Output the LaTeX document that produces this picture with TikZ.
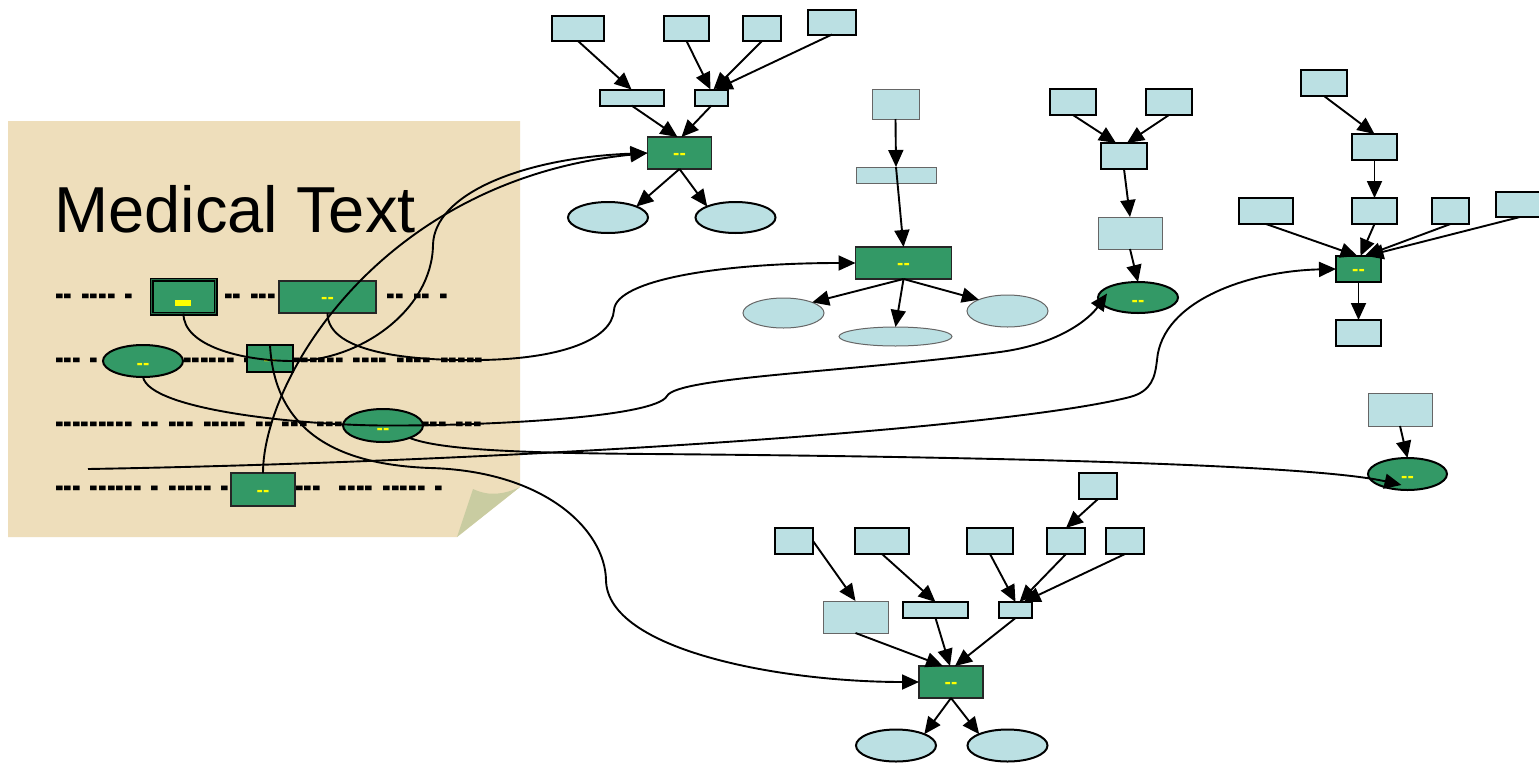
\documentclass[tikz,border=0pt]{standalone}
\usepackage{graphicx}
\usetikzlibrary{arrows.meta,shapes.geometric,calc}
\font\titlefnt="Liberation Sans" at 65pt
\font\dashfnt="Liberation Sans/B" at 26pt
\font\lblfnt="Liberation Sans/B" at 19pt
\newcommand\dashline[1]{{\dashfnt\spaceskip=9pt\relax\scalebox{1}[1.5]{#1}}}
\definecolor{lb}{HTML}{BBE0E3}
\definecolor{gr}{HTML}{339966}
\definecolor{paper}{HTML}{EEDEBB}
\definecolor{flap}{HTML}{C9CCA1}
\definecolor{lbl}{HTML}{FFFF00}
\tikzset{
  every node/.style={inner sep=0pt, outer sep=0pt},
  sz/.style 2 args={minimum width=#1pt, minimum height=#2pt},
  lbk/.style={rectangle, fill=lb, draw=black, line width=2pt},
  lbt/.style={rectangle, fill=lb, draw=black!60, line width=1pt},
  elk/.style={ellipse, fill=lb, draw=black, line width=2pt},
  elt/.style={ellipse, fill=lb, draw=black!60, line width=1pt},
  grt/.style={rectangle, fill=gr, draw=black!85, line width=1.2pt, text=lbl, font=\lblfnt, text height=13.5pt, text depth=0pt},
  grk/.style={rectangle, fill=gr, draw=black, line width=2pt, text=lbl, font=\lblfnt, text height=13.5pt, text depth=0pt},
  gek/.style={ellipse, fill=gr, draw=black, line width=2pt, text=lbl, font=\lblfnt, text height=17.5pt, text depth=0pt},
  dashrow/.style={anchor=base west},
  arr/.style={-{Triangle[length=17pt,width=15pt]}, line width=1.9pt},
  carr/.style={-{Triangle[length=17pt,width=15pt]}, line width=1.9pt}
}
\begin{document}
\begin{tikzpicture}[x=1pt,y=-1pt]
\useasboundingbox (0,0) rectangle (1539,763);
\fill[white] (0,0) rectangle (1539,763);
% paper
\fill[paper] (8,121) -- (520,121) -- (520,487) -- (457,537) -- (8,537) -- cycle;
\fill[flap] (457,537) -- (473,489) .. controls (490,497) and (505,494) .. (520,487) -- cycle;
\node[anchor=base west, font=\titlefnt] (title) at (54.5,232) {Medical Text};
% dash rows
\node[dashrow] (r1a) at (55,306) {\dashline{-- ---- -}};
\node[dashrow] (r1b) at (224,306) {\dashline{-- ---}};
\node[dashrow, anchor=base east] (r1c) at (448,306) {\dashline{-- -- -- -}};
\node[dashrow] (r2a) at (55,370) {\dashline{--- -}};
\node[dashrow] (r2b) at (183,370) {\dashline{------ --}};
\node[dashrow] (r2c) at (292,370) {\dashline{------ ---- ---- -----}};
\node[dashrow] (r3a) at (55,434) {\dashline{--------- -- --- ----- -- --- ---}};
\node[dashrow] (r3b) at (421,434) {\dashline{--- ---}};
\node[dashrow] (r4a) at (55,498) {\dashline{--- ------ - ----- --}};
\node[dashrow] (r4b) at (295,498) {\dashline{---\hspace{18pt}---- ----- -}};
% left panel nodes
\node[rectangle, fill=gr, draw=black, line width=1.5pt, double=gr!70!black, double distance=1pt, sz={64}{34}] (A) at (183.5,296.5) {};
\node[fill=lbl, sz={16}{6}] (Abar) at (183,303) {};
\node[grt, sz={97}{32}] (B) at (327.5,297) {--};
\node[grk, sz={46}{27}] (C) at (270,358.5) {--};
\node[gek, sz={80}{32}] (E1) at (143,361) {--};
\node[gek, sz={80}{33}] (E2) at (383,425.5) {--};
\node[grt, sz={64}{33}] (D) at (263,489.5) {--};
% top-left cluster
\node[lbk, sz={52}{25}] (T1) at (578,28.5) {};
\node[lbk, sz={45}{25}] (T2) at (686.5,28.5) {};
\node[lbk, sz={38}{25}] (T3) at (762,28.5) {};
\node[lbk, sz={48}{25}] (T4) at (832,22) {};
\node[lbk, sz={64}{16}] (T5) at (631.5,97.5) {};
\node[lbk, sz={33}{16}] (T6) at (711.5,97.5) {};
\node[grt, sz={64}{32}] (G1) at (679.5,153) {--};
\node[elk, sz={80}{31}] (O1) at (608,217.5) {};
\node[elk, sz={80}{31}] (O2) at (735.5,217.5) {};
% middle cluster
\node[lbt, sz={47}{30}] (M1) at (895.5,104) {};
\node[lbt, sz={80}{16}] (M2) at (896,175) {};
\node[grt, sz={96}{32}] (G2) at (903.5,263) {--};
\node[elt, sz={81}{30}] (O3) at (783.5,313) {};
\node[elt, sz={113}{19}] (O4) at (895.5,336.5) {};
\node[elt, sz={81}{32}] (O5) at (1007.5,311) {};
% right-middle cluster
\node[lbk, sz={46}{26}] (R1) at (1073,102) {};
\node[lbk, sz={46}{26}] (R2) at (1169,102) {};
\node[lbk, sz={46}{26}] (R3) at (1124,156) {};
\node[lbt, sz={64}{32}] (R4) at (1130,233) {};
\node[gek, sz={80}{31}] (GE1) at (1138,297.5) {--};
% far-right cluster
\node[lbk, sz={46}{26}] (S1) at (1324,83) {};
\node[lbk, sz={45}{26}] (S2) at (1374.5,147) {};
\node[lbk, sz={54}{26}] (S3) at (1266,211) {};
\node[lbk, sz={45}{26}] (S4) at (1374.5,211) {};
\node[lbk, sz={37}{26}] (S5) at (1450.5,211) {};
\node[lbk, sz={48}{25}] (S6) at (1520,204.5) {};
\node[grk, sz={45}{26}] (G3) at (1358.5,269) {--};
\node[lbk, sz={45}{26}] (S7) at (1358.5,333) {};
\node[lbt, sz={64}{33}] (S8) at (1400,409.5) {};
\node[gek, sz={79}{32}] (GE2) at (1407.5,474) {--};
% bottom cluster
\node[lbk, sz={38}{26}] (B1) at (794,541) {};
\node[lbk, sz={54}{26}] (B2) at (882,541) {};
\node[lbk, sz={46}{26}] (B3) at (990,541) {};
\node[lbk, sz={38}{26}] (B4) at (1066,541) {};
\node[lbk, sz={38}{26}] (B5) at (1125,541) {};
\node[lbk, sz={38}{26}] (B6) at (1098,486) {};
\node[lbt, sz={65}{32}] (B7) at (855.5,617) {};
\node[lbk, sz={65}{16}] (B8) at (935.5,610) {};
\node[lbk, sz={33}{16}] (B9) at (1015.5,610) {};
\node[grt, sz={64}{32}] (G4) at (951,682) {--};
\node[elk, sz={80}{32}] (O6) at (896,745.5) {};
\node[elk, sz={80}{32}] (O7) at (1007.5,745.5) {};
% cluster edges
\draw[arr] (T1.south) -- (T5.north);
\draw[arr] (T2.south) -- ([xshift=-1pt]T6.north);
\draw[arr] (T3.south) -- ([xshift=2pt]T6.north);
\draw[arr] (T4.south) -- ([xshift=4pt]T6.north);
\draw[arr] (T5.south) -- ([xshift=-2pt]G1.north);
\draw[arr] (T6.south) -- ([xshift=2pt]G1.north);
\draw[arr] (G1.south) -- (O1.north east);
\draw[arr] (G1.south) -- (O2.north west);
\draw[arr] (M1.south) -- (M2.north);
\draw[arr] (M2.north) -- (G2.north);
\draw[arr] (G2.south) -- (O3.north east);
\draw[arr] (G2.south) -- (O4.north);
\draw[arr] (G2.south) -- (O5.north west);
\draw[arr] (R1.south) -- ([xshift=-8pt]R3.north);
\draw[arr] (R2.south) -- ([xshift=3pt]R3.north);
\draw[arr] (R3.south) -- (R4.north);
\draw[arr] (R4.south) -- (GE1.north);
\draw[arr] (S1.south) -- (S2.north);
\draw[arr] (S2.south) -- (S4.north);
\draw[arr] (S3.south) -- ([xshift=-1pt]G3.north);
\draw[arr] (S4.south) -- ([xshift=2pt]G3.north);
\draw[arr] (S5.south) -- ([xshift=6pt]G3.north);
\draw[arr] (S6.south) -- ([xshift=8pt]G3.north);
\draw[arr] (G3.south) -- (S7.north);
\draw[arr] (S8.south) -- (GE2.north);
\draw[arr] (B6.south) -- (B4.north);
\draw[arr] (B1.east) -- (B7.north);
\draw[arr] (B2.south) -- (B8.north);
\draw[arr] (B3.south) -- (B9.north);
\draw[arr] (B4.south) -- ([xshift=4pt]B9.north);
\draw[arr] (B5.south) -- ([xshift=8pt]B9.north);
\draw[arr] (B7.south) -- ([xshift=-8pt]G4.north);
\draw[arr] (B8.south) -- ([xshift=-1pt]G4.north);
\draw[arr] (B9.south) -- ([xshift=4pt]G4.north);
\draw[arr] (G4.south) -- (O6.north east);
\draw[arr] (G4.south) -- (O7.north west);
% long connectors
\coordinate (fs) at (88,469);
\draw[carr] (A.south) .. controls (183,345) and (240,361) .. (293,361)
  .. controls (360,361) and (432,310) .. (433,245)
  .. controls (434,195) and (520,158) .. (G1.west);
\draw[carr] (D.north) .. controls (263,380) and (380,180) .. (G1.west);
\draw[carr] (B.south) .. controls (327,355) and (420,361) .. (480,360)
  .. controls (560,359) and (612,340) .. (614,310)
  .. controls (616,280) and (720,263) .. (G2.west);
\draw[carr] (E1.south) .. controls (150,410) and (300,425) .. (E2.center)
  .. controls (480,426) and (655,418) .. (667,396)
  .. controls (677,377) and (850,372) .. (1000,352)
  .. controls (1060,344) and (1090,318) .. ($(GE1.center)+(-31,-4)$);
\draw[carr] (E2.-25) .. controls (440,450) and (520,453) .. (650,454)
  .. controls (900,456) and (1300,462) .. ($(GE2.center)+(-6,11)$);
\draw[carr] (fs) .. controls (500,462) and (1000,430) .. (1130,397)
  .. controls (1152,391) and (1155,377) .. (1157,360)
  .. controls (1162,300) and (1250,271) .. (G3.west);
\draw[carr] (C.north) .. controls (275,440) and (350,465) .. (430,468)
  .. controls (545,471) and (605,530) .. (606,580)
  .. controls (607,650) and (780,682) .. (G4.west);
\end{tikzpicture}
\end{document}
